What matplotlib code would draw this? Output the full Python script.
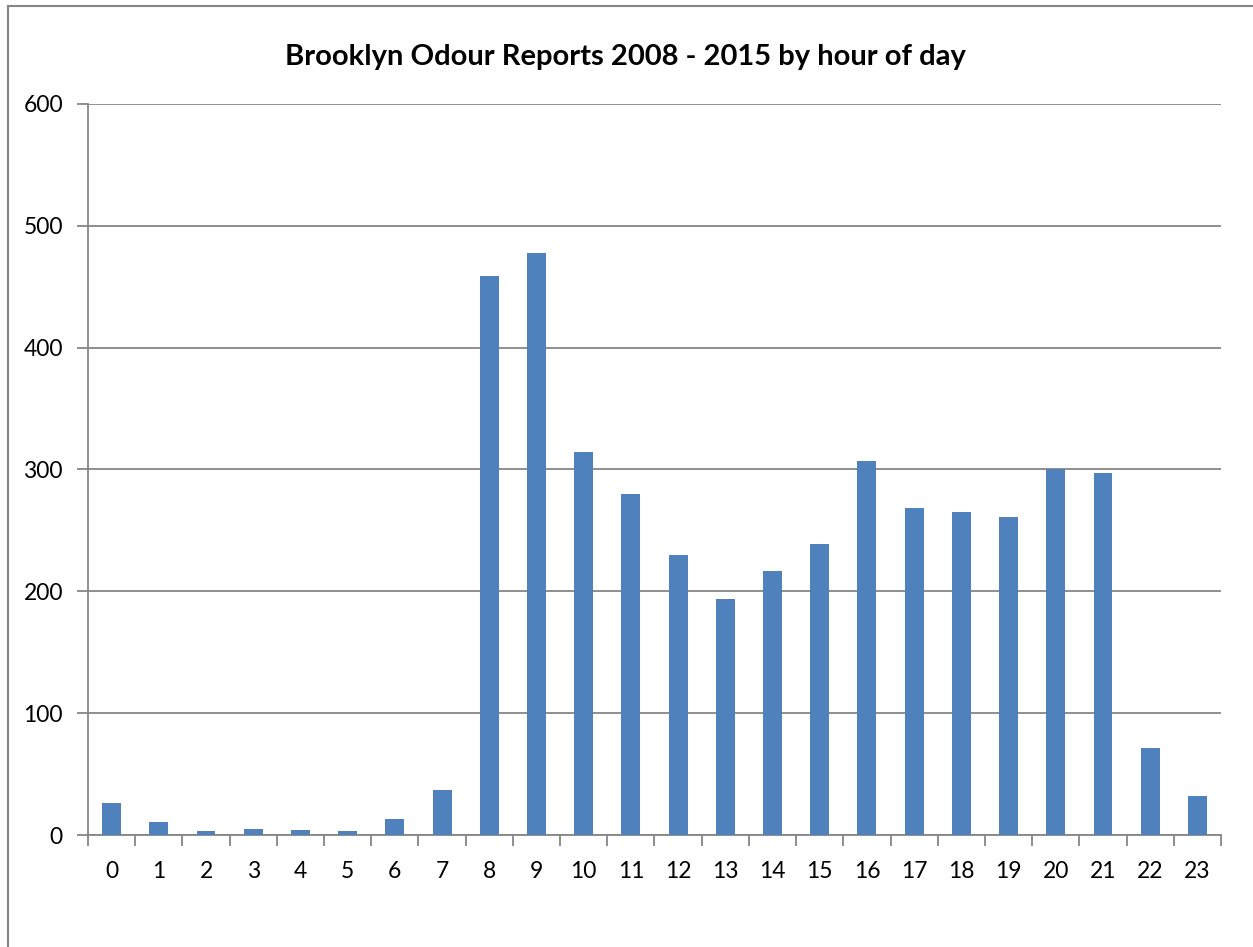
import matplotlib
matplotlib.use("Agg")
import matplotlib.pyplot as plt
from matplotlib.ticker import FixedLocator
import numpy as np

hours = [str(h) for h in range(24)]
reports = [26, 11, 3, 5, 4, 3, 13, 37, 459, 478, 314, 280, 230, 194, 217, 239,
           307, 268, 265, 261, 300, 297, 71, 32]
title = "Brooklyn Odour Reports 2008 - 2015 by hour of day"

plt.rcParams['font.family'] = ['Lato', 'DejaVu Sans']
fig = plt.figure(figsize=(12.53, 9.47), dpi=100)
ax = fig.add_axes([88/1253, 1-835/947, (1221-88)/1253, (835-104)/947])

x = np.arange(len(hours))
ax.bar(x, reports, width=0.4, color='#4F81BD', zorder=3)
ax.set_xlim(-0.5, len(hours)-0.5)
ax.set_ylim(0, 600)
ax.set_yticks(range(0, 601, 100))
ax.yaxis.grid(True, color='#868686', linewidth=1.3, zorder=0)
ax.set_xticks(x)
ax.set_xticklabels(hours)
ax.xaxis.set_minor_locator(FixedLocator(np.arange(-0.5, len(hours), 1)))
ax.tick_params(axis='x', which='major', length=0, labelsize=16.5, pad=19)
ax.tick_params(axis='x', which='minor', length=8, color='#868686', width=1.3)
ax.tick_params(axis='y', length=8, color='#868686', width=1.3, labelsize=16.5, pad=10)
for s in ['top', 'right']:
    ax.spines[s].set_visible(False)
for s in ['left', 'bottom']:
    ax.spines[s].set_color('#868686')
    ax.spines[s].set_linewidth(1.3)

fig.text(625/1253, 1-57/947, title, ha='center', va='center', fontsize=21, fontweight='bold')

# chart border (left & top visible)
fig.add_artist(plt.Line2D([7.5/1253, 7.5/1253], [0, 1-6.5/947], transform=fig.transFigure, color='#868686', lw=1.5))
fig.add_artist(plt.Line2D([7.5/1253, 1], [1-6.5/947, 1-6.5/947], transform=fig.transFigure, color='#868686', lw=1.5))

fig.savefig("out.png", dpi=100)
